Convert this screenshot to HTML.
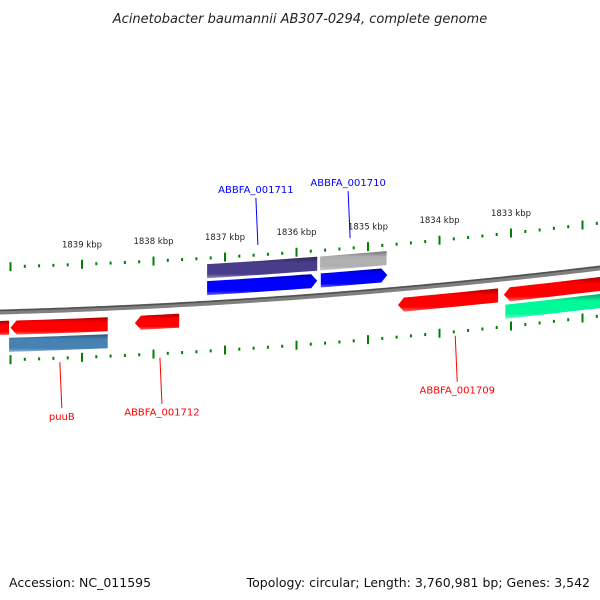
<!DOCTYPE html>
<html><head><meta charset="utf-8"><style>
html,body{margin:0;padding:0;background:#fff;}
svg{display:block;font-family:"DejaVu Sans","Liberation Sans",sans-serif;}
</style></head><body>
<svg id="chart" width="600" height="600" viewBox="0 0 600 600">
<defs>
<linearGradient id="gb" x1="0" y1="0" x2="0" y2="1"><stop offset="0" stop-color="#000" stop-opacity="0.35"/><stop offset="0.3" stop-color="#000" stop-opacity="0"/><stop offset="0.8" stop-color="#fff" stop-opacity="0"/><stop offset="1" stop-color="#fff" stop-opacity="0.4"/></linearGradient>
</defs>
<text x="300" y="23" text-anchor="middle" font-size="13" font-style="italic" fill="#222">Acinetobacter baumannii AB307-0294, complete genome</text>
<g id="ticks"></g>
<g id="backbone"></g>
<g id="genes"></g>
<g id="labels"></g>
<text x="9" y="587" font-size="12.5" fill="#111">Accession: NC_011595</text>
<text x="590" y="587" text-anchor="end" font-size="12.5" fill="#111">Topology: circular; Length: 3,760,981 bp; Genes: 3,542</text>
</svg>
<script>
const tickKbp = [1839, 1838, 1837, 1836, 1835, 1834, 1833];
const geneStart = [1840.3, 1840.0, 1838.26, 1837.25, 1837.25, 1835.66, 1835.67, 1834.58, 1833.10, 1840.02, 1833.08];
const geneEnd = [1840.02, 1838.64, 1837.64, 1835.71, 1835.71, 1834.73, 1834.74, 1833.18, 1831.7, 1838.64, 1831.7];
const geneRow = [-16, -16, -16, 15, 32, 15, 32, -16, -16, -33, -33];
const geneDir = [-1, -1, -1, 1, 0, 1, 0, -1, -1, 0, 0];
const geneColor = ["#ff0000","#ff0000","#ff0000","#0000ff","#483d8b","#0000ff","#b0b0b0","#ff0000","#ff0000","#4682b4","#00fa9a"];
const labelText = ["ABBFA_001711","ABBFA_001710","puuB","ABBFA_001712","ABBFA_001709"];
const labelKbp = [1836.54, 1835.25, 1839.31, 1837.91, 1833.78];
const labelSide = [1, 1, -1, -1, -1];
const labelColor = ["#0000ff","#0000ff","#ff0000","#ff0000","#ff0000"];

const NS = "http://www.w3.org/2000/svg";
function X(k){ return 225 + (1837 - k) * 71.5; }
function base(x){ return 312 - 0.0267 * x - 7.78e-5 * x * x; }
function Y(x, off){ return base(x) - off; }
function mk(tag, attrs, parent){ const e = document.createElementNS(NS, tag); for (const k in attrs) e.setAttribute(k, attrs[k]); parent.appendChild(e); return e; }

const bb = document.getElementById('backbone');
let d = "";
for (let x = -5; x <= 605; x += 5) d += (x === -5 ? "M" : "L") + x + "," + Y(x, 0).toFixed(2);
const bl1 = mk('path', {d: d, stroke: "#808080", "stroke-width": 5, fill: "none"}, bb);


const bl2 = mk('path', {d: d, stroke: "#505050", "stroke-width": 1.5, fill: "none", transform: "translate(0,-1.5)"}, bb);



const tg = document.getElementById('ticks');
for (let i = 1831 * 5; i <= 1841 * 5; i++) {
  const k = i / 5, x = X(k);
  if (x < 0 || x > 600) continue;
  const major = i % 5 === 0;
  [45, -48].forEach(off => {
    const y = Y(x, off);
    const t = mk('line', {x1: x, x2: x, y1: y - (major ? 4.5 : 1.5), y2: y + (major ? 4.5 : 1.5), stroke: "#008000", "stroke-width": 2}, tg);
    
    
  });
}
tickKbp.forEach(k => {
  const x = X(k);
  const t = mk('text', {x: x, y: Y(x, 45) - 17, "text-anchor": "middle", "font-size": 8.5, fill: "#222"}, tg);
  t.textContent = k + " kbp";
  
  
});

const gg = document.getElementById('genes');
const H = 14;
geneStart.forEach((s, i) => {
  const a = X(s), b = X(geneEnd[i]), off = geneRow[i], dir = geneDir[i];
  const tip = 6;
  const top = [], bot = [];
  const sa = dir === -1 ? a + tip : a, sb = dir === 1 ? b - tip : b;
  for (let t = 0; t <= 10; t++) { const x = sa + (sb - sa) * t / 10; top.push([x, Y(x, off + H / 2)]); bot.push([x, Y(x, off - H / 2)]); }
  let pts = top.slice();
  if (dir === 1) pts.push([b, Y(b, off)]);
  pts = pts.concat(bot.reverse());
  if (dir === -1) pts.push([a, Y(a, off)]);
  const p = pts.map(q => q[0].toFixed(1) + "," + q[1].toFixed(1)).join(" ");
  const g = mk('polygon', {points: p, fill: geneColor[i]}, gg);
  
  
  const sh = mk('polygon', {points: p, fill: "url(#gb)"}, gg);
  
  
});

const lg = document.getElementById('labels');
labelText.forEach((txt, i) => {
  const x = X(labelKbp[i]), side = labelSide[i];
  const y0 = Y(x, side > 0 ? 55 : -52);
  const y1 = side > 0 ? y0 - 47 : y0 + 46;
  const ln = mk('line', {x1: x, y1: y0, x2: x - 2 * side, y2: y1, stroke: labelColor[i], "stroke-width": 1}, lg);
  
  
  const t = mk('text', {x: x - 2 * side, y: side > 0 ? y1 - 5 : y1 + 12, "text-anchor": "middle", "font-size": 10, fill: labelColor[i]}, lg);
  t.textContent = txt;
  
  
});
</script>
</body></html>
